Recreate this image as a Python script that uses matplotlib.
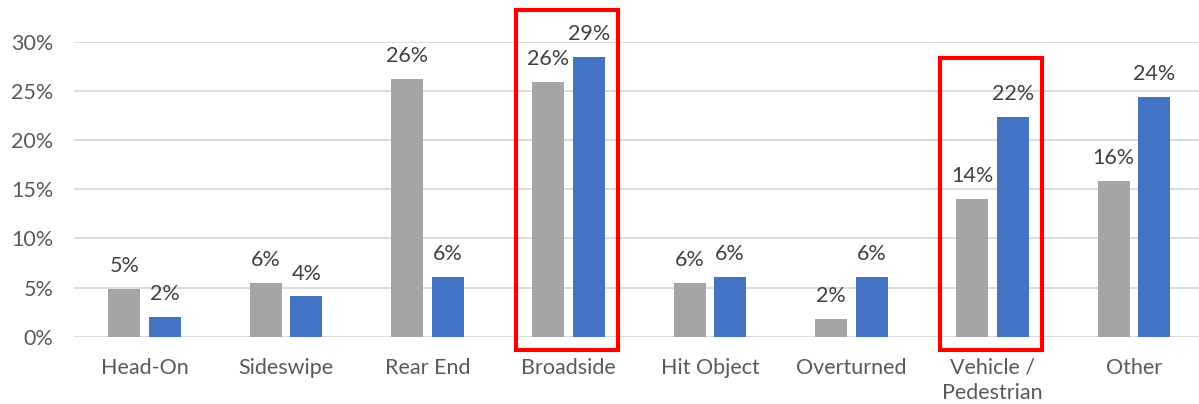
import matplotlib.pyplot as plt
import matplotlib.patches as mpatches
import numpy as np

# collision types and shares (%)
categories = ["Head-On", "Sideswipe", "Rear End", "Broadside",
              "Hit Object", "Overturned", "Vehicle /\nPedestrian", "Other"]
gray_vals = [4.9, 5.5, 26.2, 25.9, 5.5, 1.8, 14.0, 15.9]
blue_vals = [2.0, 4.1, 6.1, 28.5, 6.1, 6.1, 22.4, 24.4]
gray_labels = ["5%", "6%", "26%", "26%", "6%", "2%", "14%", "16%"]
blue_labels = ["2%", "4%", "6%", "29%", "6%", "6%", "22%", "24%"]
highlight = [3, 6]
box_tops = [33.3, 28.4]
y_ticks = [0, 5, 10, 15, 20, 25, 30]

plt.rcParams['font.family'] = ['Lato', 'DejaVu Sans']

fig = plt.figure(figsize=(11.99, 4.04), dpi=100)
ax = fig.add_axes([74 / 1199, 67.3 / 404, 1125 / 1199, 294.7 / 404])

x = np.arange(len(categories))
w = 0.226
off = 0.143
b1 = ax.bar(x - off, gray_vals, w, color="#A5A5A5", zorder=3)
b2 = ax.bar(x + off, blue_vals, w, color="#4472C4", zorder=3)

for bars, labs in ((b1, gray_labels), (b2, blue_labels)):
    for b, lab in zip(bars, labs):
        ax.annotate(lab, (b.get_x() + b.get_width() / 2, b.get_height()),
                    xytext=(0, 16.5), textcoords="offset points",
                    ha="center", va="center", fontsize=15.5, color="#404040",
                    annotation_clip=False)

# red highlight boxes
for i, top in zip(highlight, box_tops):
    rect = mpatches.Rectangle((i - 0.37, -1.4), 0.72, top + 1.4,
                              fill=False, edgecolor="#FF0000", linewidth=3,
                              clip_on=False, zorder=5)
    ax.add_patch(rect)

ax.set_xlim(-0.5, 7.46)
ax.set_ylim(0, 30)
ax.set_yticks(y_ticks)
ax.set_yticklabels([f"{t}%" for t in y_ticks])
ax.set_xticks(x)
ax.set_xticklabels(categories, linespacing=1.35)
ax.tick_params(axis="both", length=0, labelsize=15.5, labelcolor="#595959")
ax.tick_params(axis="x", pad=15)
ax.tick_params(axis="y", pad=15)
ax.yaxis.grid(True, color="#D9D9D9", linewidth=1.3, zorder=0)
for s in ax.spines.values():
    s.set_visible(False)

fig.savefig("out.png", dpi=100)
